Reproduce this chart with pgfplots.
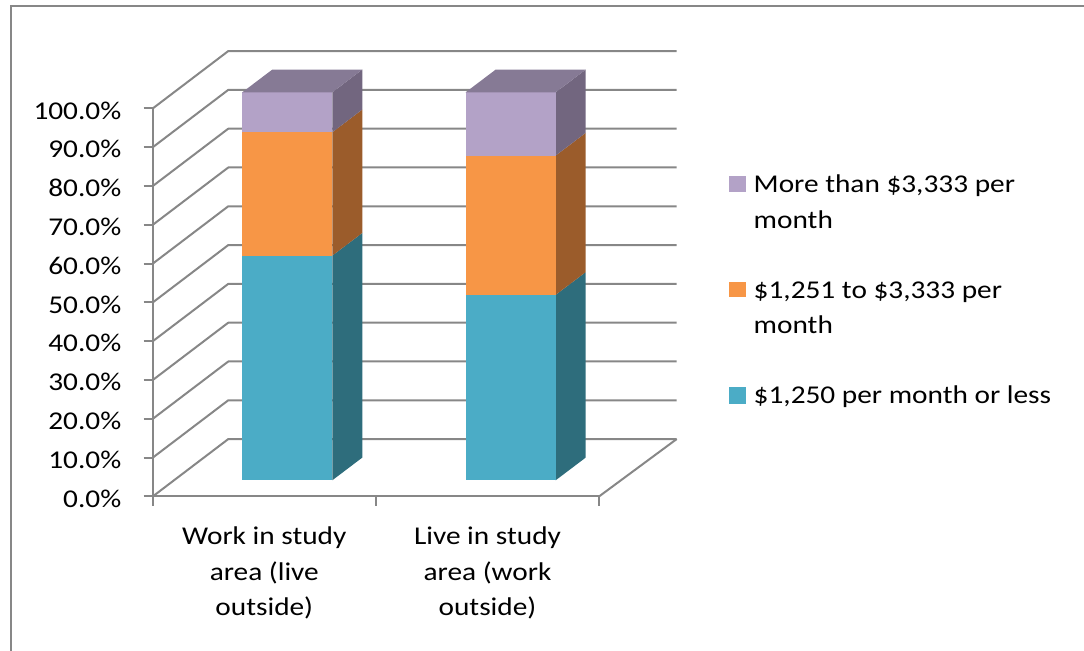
\documentclass[border=0pt]{standalone}
\usepackage{pgfplots}
\usepackage{pgfplotstable}
\pgfplotsset{compat=1.18}
\usepackage{fontspec}
\setmainfont{Carlito}[FakeStretch=1.145]

\definecolor{gridgray}{HTML}{878787}
\definecolor{aquaF}{HTML}{4BACC6}
\definecolor{aquaS}{HTML}{2E6D7C}
\definecolor{orangeF}{HTML}{F79646}
\definecolor{orangeS}{HTML}{9B5C2B}
\definecolor{purpleF}{HTML}{B3A2C7}
\definecolor{purpleS}{HTML}{72667F}
\definecolor{purpleT}{HTML}{867A95}

\newcommand{\labelfont}{\fontsize{12.8}{17.8}\selectfont}

% shares of each income band (percent), x0 = left edge of the bar front
\pgfplotstableread{
x0     low   mid   high
242.3  57.9  31.8  10.3
465.7  47.8  35.9  16.3
}\incometable

% bar geometry: x in px units, y in percent
\def\bw{90}      % bar width
\def\fy{4.175}   % lift of the bar front above the floor edge
\def\ddx{30}     % bar depth, horizontal
\def\ddy{5.85}   % bar depth, vertical

% one stacked block: #1 left x, #2 lower, #3 upper, #4 front colour, #5 side colour
\newcommand{\segment}[5]{%
  \pgfmathsetmacro\xl{#1}%
  \pgfmathsetmacro\xr{#1+\bw}%
  \pgfmathsetmacro\xs{#1+\bw+\ddx}%
  \pgfmathsetmacro\ylo{#2+\fy}%
  \pgfmathsetmacro\yhi{#3+\fy}%
  \pgfmathsetmacro\ylob{#2+\fy+\ddy}%
  \pgfmathsetmacro\yhib{#3+\fy+\ddy}%
  \addplot[draw=none, fill=#5] coordinates {(\xr,\ylo) (\xs,\ylob) (\xs,\yhib) (\xr,\yhi)};
  \addplot[draw=none, fill=#4] coordinates {(\xl,\ylo) (\xr,\ylo) (\xr,\yhi) (\xl,\yhi)};
}

% a full column: three stacked blocks and the top face
\newcommand{\drawbar}[4]{%
  \pgfmathsetmacro\cA{#2}%
  \pgfmathsetmacro\cB{#2+#3}%
  \pgfmathsetmacro\cC{#2+#3+#4}%
  \segment{#1}{0}{\cA}{aquaF}{aquaS}%
  \segment{#1}{\cA}{\cB}{orangeF}{orangeS}%
  \segment{#1}{\cB}{\cC}{purpleF}{purpleS}%
  \pgfmathsetmacro\xlb{#1+\ddx}%
  \addplot[draw=none, fill=purpleT] coordinates {(\xl,\yhi) (\xr,\yhi) (\xs,\yhib) (\xlb,\yhib)};
}

\begin{document}
\begin{tikzpicture}[x=0.5pt,y=0.5pt]
\useasboundingbox (0,0) rectangle (1084,651);
% chart frame
\draw[gridgray, line width=1pt] (10.7,-5) -- (10.7,645) -- (1090,645);

\begin{axis}[
  at={(76.35pt,77.25pt)}, anchor=south west,
  x=0.5pt, y=1.94pt,
  xmin=152.7, xmax=680, ymin=0, ymax=116,
  clip=false,
  axis line style={draw=none},
  major tick length=0pt,
  ytick={0,10,...,100},
  yticklabel={\pgfmathprintnumber[fixed,fixed zerofill,precision=1]{\tick}\%},
  yticklabel style={anchor=east, inner sep=0pt, xshift=-15.5pt, yshift=-1pt},
  xtick={264.3,487.5},
  xticklabels={{Work in study\\area (live\\outside)},{Live in study\\area (work\\outside)}},
  xticklabel style={anchor=north, inner sep=0pt, align=center, yshift=-15pt},
  ticklabel style={font=\labelfont, text=black},
  /pgf/number format/assume math mode=true,
  gline/.style={draw=gridgray, line width=1pt, line join=round},
]
  % back wall and side gridlines, with the y tick marks
  \pgfplotsinvokeforeach{0,10,...,100}{%
    \pgfmathsetmacro\gb{#1+14.8}%
    \addplot[gline] coordinates {(152.7,#1) (228.3,\gb) (676.7,\gb)};
    \addplot[gline] coordinates {(143.7,#1) (152.7,#1)};
  }
  % floor edges and axis lines
  \addplot[gline] coordinates {(599,0) (676.7,14.8)};
  \addplot[gline] coordinates {(152.7,100) (152.7,0) (599,0)};
  % category tick marks
  \addplot[gline] coordinates {(152.7,0) (152.7,-2.45)};
  \addplot[gline] coordinates {(376,0) (376,-2.45)};
  \addplot[gline] coordinates {(599,0) (599,-2.45)};

  % columns
  \pgfplotsinvokeforeach{0,1}{%
    \pgfplotstablegetelem{#1}{x0}\of\incometable \let\xz\pgfplotsretval
    \pgfplotstablegetelem{#1}{low}\of\incometable \let\va\pgfplotsretval
    \pgfplotstablegetelem{#1}{mid}\of\incometable \let\vb\pgfplotsretval
    \pgfplotstablegetelem{#1}{high}\of\incometable \let\vc\pgfplotsretval
    \drawbar{\xz}{\va}{\vb}{\vc}
  }
\end{axis}

% legend
\begin{scope}[every node/.style={anchor=base west, inner sep=0pt, font=\labelfont}]
  \fill[purpleF] (729.3,458.7) rectangle (745.7,475.4);
  \node at (753.3,458) {More than \$3,333 per};
  \node at (753.3,422.7) {month};
  \fill[orangeF] (729.3,353.7) rectangle (745.7,369.3);
  \node at (753.3,352.7) {\$1,251 to \$3,333 per};
  \node at (753.3,317.3) {month};
  \fill[aquaF] (729.3,247.3) rectangle (745.7,263.7);
  \node at (753.3,247.7) {\$1,250 per month or less};
\end{scope}
\end{tikzpicture}
\end{document}
